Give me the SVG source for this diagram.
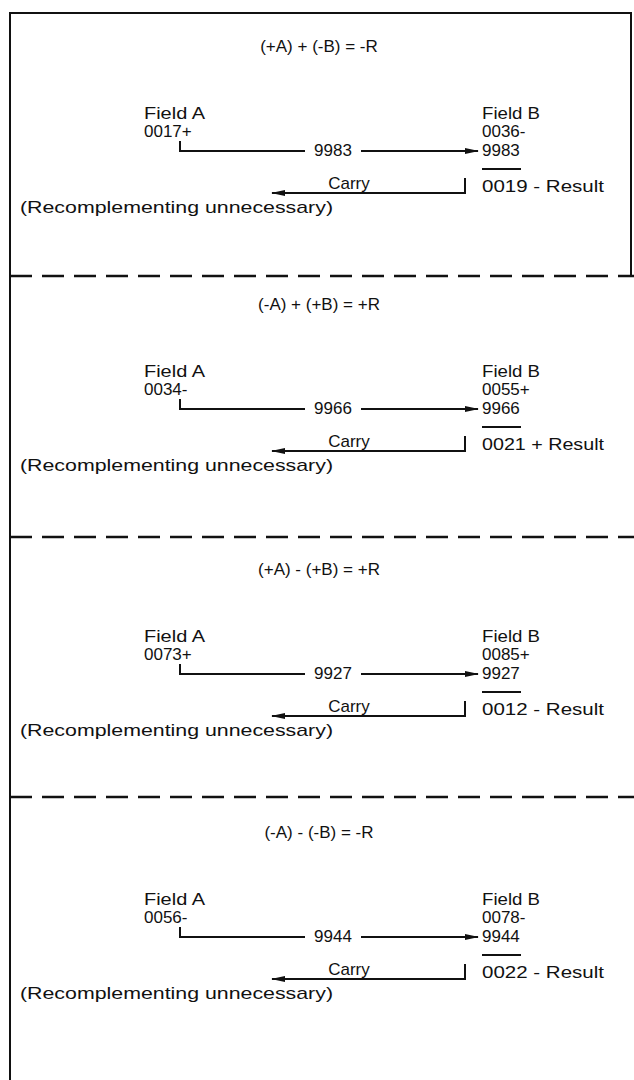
<svg xmlns="http://www.w3.org/2000/svg" width="634" height="1080" viewBox="0 0 634 1080">
<style>
text{font-family:"Liberation Sans",Arial,sans-serif;font-size:17px;fill:#111}
.t{text-anchor:middle}
.ln{stroke:#111;stroke-width:2;fill:none}
.fr{stroke:#111;stroke-width:2;fill:none}
.dash{stroke:#111;stroke-width:2.5;stroke-dasharray:22 10;fill:none}
</style>
<defs>
<marker id="ah" markerWidth="14" markerHeight="8" refX="13" refY="4" orient="auto" markerUnits="userSpaceOnUse">
<path d="M0,1 L14,4 L0,7 Z" fill="#111"/>
</marker>
</defs>
<g id="frame">
<path class="fr" d="M10,1080 L10,13 L631,13 L631,276"/>
<path class="dash" d="M10,276 L634,276"/>
<path class="dash" d="M10,537 L634,537"/>
<path class="dash" d="M10,797 L634,797"/>
</g>
<g id="section1">
<text class="t" x="319" y="52">(+A) + (-B) = -R</text>
<g id="fieldA1"><text x="144" y="119" textLength="61" lengthAdjust="spacingAndGlyphs">Field A</text><text x="144" y="137">0017+</text></g>
<g id="fieldB1"><text x="482" y="119" textLength="58" lengthAdjust="spacingAndGlyphs">Field B</text><text x="482" y="137">0036-</text><text x="482" y="156">9983</text><text x="482" y="192" textLength="122" lengthAdjust="spacingAndGlyphs">0019 - Result</text></g>
<text x="333" y="156" class="t">9983</text>
<text x="349" y="189" class="t">Carry</text>
<text x="20" y="213" textLength="313" lengthAdjust="spacingAndGlyphs">(Recomplementing unnecessary)</text>
</g>
<g id="section2" transform="translate(0,258)">
<text class="t" x="319" y="52">(-A) + (+B) = +R</text>
<g id="fieldA2"><text x="144" y="119" textLength="61" lengthAdjust="spacingAndGlyphs">Field A</text><text x="144" y="137">0034-</text></g>
<g id="fieldB2"><text x="482" y="119" textLength="58" lengthAdjust="spacingAndGlyphs">Field B</text><text x="482" y="137">0055+</text><text x="482" y="156">9966</text><text x="482" y="192" textLength="122" lengthAdjust="spacingAndGlyphs">0021 + Result</text></g>
<text x="333" y="156" class="t">9966</text>
<text x="349" y="189" class="t">Carry</text>
<text x="20" y="213" textLength="313" lengthAdjust="spacingAndGlyphs">(Recomplementing unnecessary)</text>
</g>
<g id="section3" transform="translate(0,523)">
<text class="t" x="319" y="52">(+A) - (+B) = +R</text>
<g id="fieldA3"><text x="144" y="119" textLength="61" lengthAdjust="spacingAndGlyphs">Field A</text><text x="144" y="137">0073+</text></g>
<g id="fieldB3"><text x="482" y="119" textLength="58" lengthAdjust="spacingAndGlyphs">Field B</text><text x="482" y="137">0085+</text><text x="482" y="156">9927</text><text x="482" y="192" textLength="122" lengthAdjust="spacingAndGlyphs">0012 - Result</text></g>
<text x="333" y="156" class="t">9927</text>
<text x="349" y="189" class="t">Carry</text>
<text x="20" y="213" textLength="313" lengthAdjust="spacingAndGlyphs">(Recomplementing unnecessary)</text>
</g>
<g id="section4" transform="translate(0,786)">
<text class="t" x="319" y="52">(-A) - (-B) = -R</text>
<g id="fieldA4"><text x="144" y="119" textLength="61" lengthAdjust="spacingAndGlyphs">Field A</text><text x="144" y="137">0056-</text></g>
<g id="fieldB4"><text x="482" y="119" textLength="58" lengthAdjust="spacingAndGlyphs">Field B</text><text x="482" y="137">0078-</text><text x="482" y="156">9944</text><text x="482" y="192" textLength="122" lengthAdjust="spacingAndGlyphs">0022 - Result</text></g>
<text x="333" y="156" class="t">9944</text>
<text x="349" y="189" class="t">Carry</text>
<text x="20" y="213" textLength="313" lengthAdjust="spacingAndGlyphs">(Recomplementing unnecessary)</text>
</g>
<g id="connectors">
<g transform="translate(0,0)">
<path class="ln" d="M180,141 L180,151 L305,151"/>
<path class="ln" d="M361,151 L478,151" marker-end="url(#ah)"/>
<path class="ln" d="M482,169 L521,169"/>
<path class="ln" d="M465,178 L465,193 L272,193" marker-end="url(#ah)"/>
</g>
<g transform="translate(0,258)">
<path class="ln" d="M180,141 L180,151 L305,151"/>
<path class="ln" d="M361,151 L478,151" marker-end="url(#ah)"/>
<path class="ln" d="M482,169 L521,169"/>
<path class="ln" d="M465,178 L465,193 L272,193" marker-end="url(#ah)"/>
</g>
<g transform="translate(0,523)">
<path class="ln" d="M180,141 L180,151 L305,151"/>
<path class="ln" d="M361,151 L478,151" marker-end="url(#ah)"/>
<path class="ln" d="M482,169 L521,169"/>
<path class="ln" d="M465,178 L465,193 L272,193" marker-end="url(#ah)"/>
</g>
<g transform="translate(0,786)">
<path class="ln" d="M180,141 L180,151 L305,151"/>
<path class="ln" d="M361,151 L478,151" marker-end="url(#ah)"/>
<path class="ln" d="M482,169 L521,169"/>
<path class="ln" d="M465,178 L465,193 L272,193" marker-end="url(#ah)"/>
</g>
</g>
</svg>
